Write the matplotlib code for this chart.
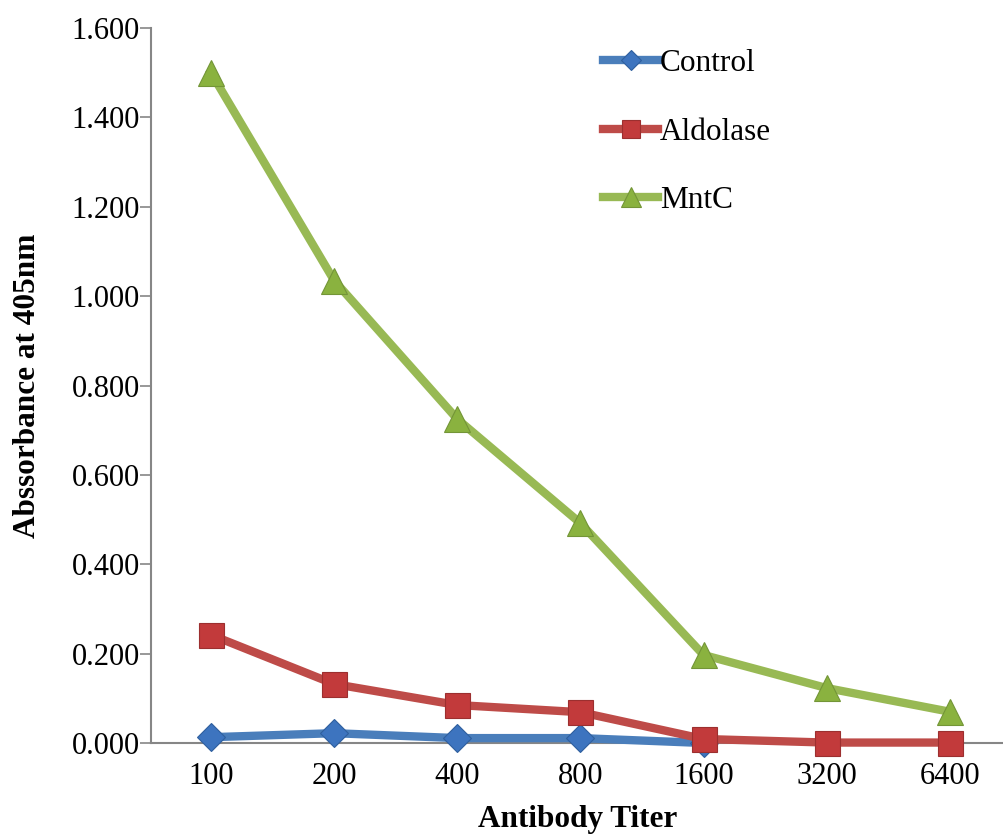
import numpy as np
import matplotlib.pyplot as plt

plt.rcParams['font.family'] = ['Liberation Serif', 'DejaVu Serif']

titers = ['100', '200', '400', '800', '1600', '3200', '6400']
control = [0.013, 0.022, 0.011, 0.011, 0.000, np.nan, np.nan]
aldolase = [0.242, 0.132, 0.085, 0.069, 0.009, 0.001, 0.001]
mntc = [1.500, 1.035, 0.725, 0.492, 0.197, 0.123, 0.070]

x = range(len(titers))

fig = plt.figure(figsize=(10.04, 8.34), dpi=100)
ax = fig.add_axes([0.1504, 0.1091, 0.8496, 0.8573])

ax.plot(x, control, color='#4a7ebb', lw=6, marker='D', ms=14,
        mfc='#3d74bf', mec='#2f5f9e', mew=0.8, label='Control', zorder=3,
        clip_on=False)
ax.plot(x, aldolase, color='#be4b48', lw=6, marker='s', ms=18,
        mfc='#c23a3b', mec='#9c2f2f', mew=0.8, label='Aldolase', zorder=4,
        clip_on=False)
ax.plot(x, mntc, color='#98b954', lw=6, marker='^', ms=19,
        mfc='#8ab23f', mec='#739537', mew=0.8, label='MntC', zorder=5,
        clip_on=False)

ax.set_xlim(-0.487, 6.44)
ax.set_ylim(0, 1.6)
ax.set_xticks(list(x))
ax.set_xticklabels(titers)
ax.set_yticks([0, 0.2, 0.4, 0.6, 0.8, 1.0, 1.2, 1.4, 1.6])
ax.set_yticklabels(['%.3f' % v for v in ax.get_yticks()])
ax.tick_params(axis='y', direction='out', length=8, width=1.2, color='#868686',
               labelsize=22, pad=0)
ax.tick_params(axis='x', length=0, labelsize=22, pad=14)

for s in ['top', 'right']:
    ax.spines[s].set_visible(False)
for s in ['left', 'bottom']:
    ax.spines[s].set_color('#868686')
    ax.spines[s].set_linewidth(1.5)

ax.set_xlabel('Antibody Titer', fontsize=22.5, fontweight='bold', labelpad=10)
ax.set_ylabel('Abssorbance at 405nm', fontsize=22.5, fontweight='bold', labelpad=21)

leg = ax.legend(loc='upper left', bbox_to_anchor=(0.573, 0.975),
                bbox_transform=fig.transFigure, frameon=False, fontsize=22.5,
                handlelength=1.75, handletextpad=0.05, labelspacing=1.27,
                markerscale=0.75)

fig.savefig('out.png', dpi=100)
